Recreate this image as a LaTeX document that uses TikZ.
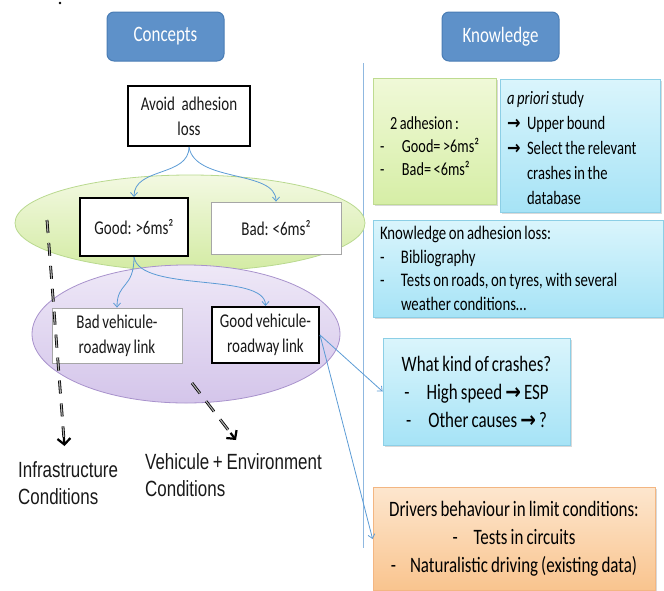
\documentclass[tikz,border=0pt]{standalone}
\usepackage{fontspec}
\setmainfont{Carlito}[FakeStretch=0.77,WordSpace=0.8]
\newfontfamily\arialf{Liberation Sans}[FakeStretch=0.77,WordSpace=0.8]
\newfontfamily\symf{DejaVu Sans}[FakeStretch=0.85]
\usetikzlibrary{arrows.meta,shadows,shapes.geometric,calc}
\definecolor{headfill}{HTML}{5E91C9}
\definecolor{headborder}{HTML}{4A7DB5}
\definecolor{sepline}{HTML}{8FB8E0}
\definecolor{arrowblue}{HTML}{5B9BD5}
\definecolor{gelltop}{HTML}{F3F9E2}
\definecolor{gellbot}{HTML}{D3EBA3}
\definecolor{gellbord}{HTML}{B9D98F}
\definecolor{pelltop}{HTML}{EEE8F7}
\definecolor{pellbot}{HTML}{D4C5EA}
\definecolor{pellbord}{HTML}{A892CC}
\definecolor{gboxtop}{HTML}{F0F9D8}
\definecolor{gboxbot}{HTML}{D6EEA6}
\definecolor{gboxbord}{HTML}{BEDB90}
\definecolor{bboxtop}{HTML}{DAF5FC}
\definecolor{bboxbot}{HTML}{A6E3F6}
\definecolor{bboxbord}{HTML}{8CCFE6}
\definecolor{oboxtop}{HTML}{FDE6CE}
\definecolor{oboxbot}{HTML}{F9C48E}
\definecolor{oboxbord}{HTML}{F3B682}
\newcommand{\myarr}{{\symf\bfseries →}}
\begin{document}
\begin{tikzpicture}[x=1pt,y=-1pt,
  head/.style={draw=headborder, fill=headfill, rounded corners=7pt, line width=1pt,
    text=white, font=\fontsize{22}{26}\selectfont, minimum width=117pt,
    minimum height=49pt, inner sep=0pt},
  lbox/.style={fill=white, align=center, font=\fontsize{19.5}{25}\selectfont,
    inner sep=0pt, text=black!90},
  lboxk/.style={lbox, draw=black, line width=2pt},
  lboxg/.style={lbox, draw=gray!70, line width=0.8pt},
  rbox/.style={line width=0.8pt, inner ysep=0pt, text=black,
    drop shadow={shadow xshift=1.5pt, shadow yshift=-1.5pt, opacity=0.3}},
  gbox/.style={rbox, draw=gboxbord, top color=gboxtop, bottom color=gboxbot},
  bbox/.style={rbox, draw=bboxbord, top color=bboxtop, bottom color=bboxbot},
  obox/.style={rbox, draw=oboxbord, top color=oboxtop, bottom color=oboxbot},
  barrow/.style={draw=arrowblue, line width=0.8pt, -{Straight Barb[length=4pt,width=7pt]}},
  dshaft/.style={draw=black, line width=0.8pt, double=gray!65, double distance=1.2pt,
    dash pattern=on 13pt off 10pt},
  dtip/.style={draw=black, line width=2.2pt, -{Straight Barb[length=6pt,width=13pt,line width=2.2pt]}},
  cond/.style={font=\arialf\fontsize{22}{27}\selectfont, align=left, inner sep=0pt, text=black!90}
]
\useasboundingbox (0,0) rectangle (664,590);
\fill (60,3) circle (1.3pt);

% headers
\node[head] (concepts) at (165.5,36.5) {Concepts};
\node[head] (knowledge) at (500.5,36.5) {Knowledge};

% separator
\coordinate (sepTop) at (363,63);
\coordinate (sepBot) at (363,548);
\draw[sepline, line width=1pt] (sepTop) -- (sepBot);

% ellipses
\node[ellipse, draw=gellbord, line width=0.8pt, top color=gelltop, bottom color=gellbot,
  minimum width=350pt, minimum height=96pt, inner sep=0pt] (gell) at (190,223) {};
\node[ellipse, draw=pellbord, line width=0.8pt, top color=pelltop, bottom color=pellbot,
  minimum width=308pt, minimum height=138pt, inner sep=0pt] (pell) at (186,334) {};

% left boxes
\node[lboxk, minimum width=122pt, minimum height=60pt] (avoid) at (189,116)
  {Avoid\hspace{0.2em} adhesion\\loss};
\node[lboxk, minimum width=108pt, minimum height=58pt] (good) at (134,227) {Good: >6ms²};
\node[lboxg, minimum width=130pt, minimum height=52pt] (bad) at (276,228) {Bad: <6ms²};
\node[lboxg, minimum width=130pt, minimum height=55pt] (badlink) at (117,335.5)
  {Bad vehicule-\\roadway link};
\node[lboxk, minimum width=107pt, minimum height=56pt] (goodlink) at (265.5,335)
  {Good vehicule-\\roadway link};

% blue connectors
\draw[barrow] (avoid.south) .. controls +(0,30) and +(0,-30) .. (good.north);
\draw[barrow] (avoid.south) .. controls +(6,36) and +(0,-32) .. (bad.north);
\draw[barrow] (good.south) .. controls +(0,32) and +(0,-26) .. (badlink.north);
\draw[barrow] (good.south) .. controls +(6,36) and +(0,-34) .. (goodlink.north);

% right boxes
\node[gbox, minimum width=123pt, minimum height=126pt, text width=109pt, inner xsep=7pt,
  align=flush left, font=\fontsize{18.5}{23}\selectfont] (adh) at (434.5,141)
  {\rule{0pt}{24pt}\hspace*{10pt}2 adhesion :\\
   \makebox[22pt][l]{-}Good= >6ms²\\
   \makebox[22pt][l]{-}Bad= <6ms²};
\node[bbox, minimum width=160pt, minimum height=133pt, text width=146pt, inner xsep=7pt,
  align=flush left, font=\fontsize{19}{25}\selectfont] (apriori) at (580,145.5)
  {\rule{0pt}{18pt}\textit{a priori} study\\
   \makebox[20pt][l]{\myarr}Upper bound\\
   \makebox[20pt][l]{\myarr}Select the relevant\\
   \hspace*{20pt}crashes in the\\
   \hspace*{20pt}database};
\node[bbox, minimum width=290pt, minimum height=97pt, text width=276pt, inner xsep=7pt,
  align=flush left, font=\fontsize{19.2}{23.5}\selectfont] (kloss) at (518,268.5)
  {Knowledge on adhesion loss:\\
   \makebox[21pt][l]{-}Bibliography\\
   \makebox[21pt][l]{-}Tests on roads, on tyres, with several\\
   \hspace*{21pt}weather conditions…};
\node[bbox, minimum width=187pt, minimum height=107pt, inner xsep=0pt,
  align=center, font=\fontsize{22}{28}\selectfont] (whatkind) at (476.5,391.5)
  {What kind of crashes?\\
   -\hspace{17pt}High speed \myarr\ ESP\\
   -\hspace{17pt}Other causes \myarr\ ?};
\node[obox, minimum width=282pt, minimum height=103pt, inner xsep=0pt,
  align=center, font=\fontsize{22}{28}\selectfont] (drivers) at (514,539)
  {Drivers behaviour in limit conditions:\\
   -\hspace{16pt}Tests in circuits\\
   -\hspace{14pt}Naturalistic driving (existing data)};

\draw[barrow] (goodlink.east) -- (whatkind.west);
\draw[barrow] (goodlink.east) -- (drivers.west);

% dashed arrows
\coordinate (d1s) at (47,220);
\coordinate (d1e) at (64.5,446);
\coordinate (d2s) at (192,383);
\coordinate (d2e) at (236,440);
\draw[dshaft] (d1s) -- ($(d1e)!9pt!(d1s)$);
\draw[dtip] ($(d1e)!9pt!(d1s)$) -- (d1e);
\draw[dshaft] (d2s) -- ($(d2e)!9pt!(d2s)$);
\draw[dtip] ($(d2e)!9pt!(d2s)$) -- (d2e);

% condition labels
\node[cond, anchor=north west] (infra) at (18,461) {Infrastructure\\Conditions};
\node[cond, anchor=north west] (vehenv) at (145,453) {Vehicule + Environment\\Conditions};
\end{tikzpicture}
\end{document}
